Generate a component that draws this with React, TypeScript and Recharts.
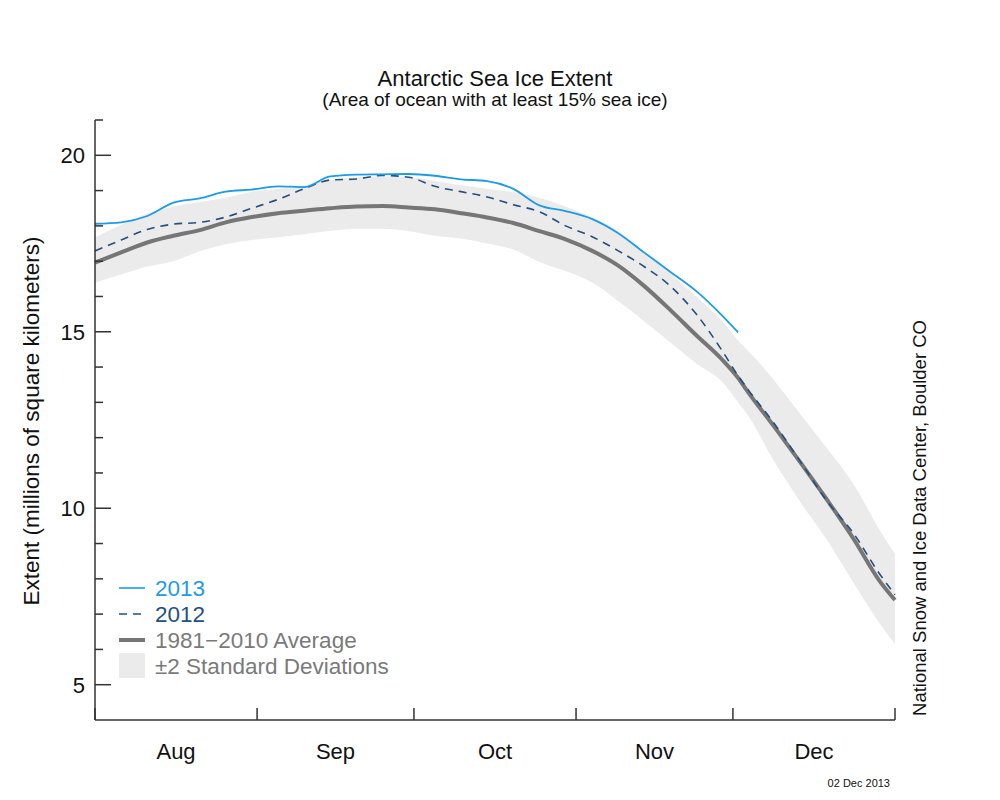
import { Area, ComposedChart, Line, XAxis, YAxis } from "recharts";

// days since Aug 1
const days = [0, 5, 10, 15, 20, 25, 30, 35, 40, 45, 50, 55, 60, 65, 70, 75, 80, 85, 90, 95, 100, 105, 110, 115, 120, 123, 125, 130, 135, 140, 145, 150, 153];
const ext2013 = [18.06, 18.1, 18.28, 18.66, 18.78, 18.97, 19.03, 19.12, 19.1, 19.4, 19.45, 19.46, 19.47, 19.42, 19.32, 19.27, 19.05, 18.58, 18.42, 18.2, 17.8, 17.25, 16.7, 16.15, 15.45, 14.98, null, null, null, null, null, null, null];
const ext2012 = [17.29, 17.6, 17.9, 18.05, 18.1, 18.25, 18.5, 18.75, 19.05, 19.3, 19.33, 19.43, 19.38, 19.12, 18.97, 18.82, 18.6, 18.4, 18.0, 17.7, 17.3, 16.85, 16.3, 15.5, 14.45, 13.75, 13.34, 12.38, 11.3, 10.2, 9.3, 8.15, 7.55];
const avg = [16.96, 17.25, 17.53, 17.72, 17.88, 18.1, 18.25, 18.36, 18.43, 18.5, 18.55, 18.56, 18.52, 18.47, 18.36, 18.24, 18.08, 17.85, 17.62, 17.3, 16.88, 16.3, 15.62, 14.9, 14.2, 13.69, 13.27, 12.29, 11.28, 10.24, 9.15, 7.95, 7.4];
const sdHigh = [17.67, 18.03, 18.35, 18.55, 18.68, 18.8, 18.97, 19.05, 19.15, 19.3, 19.38, 19.4, 19.38, 19.27, 19.15, 19.05, 18.95, 18.8, 18.55, 18.25, 17.85, 17.25, 16.65, 16.0, 15.3, 14.75, 14.45, 13.6, 12.65, 11.7, 10.7, 9.4, 8.7];
const sdLow = [16.39, 16.62, 16.85, 17.0, 17.28, 17.48, 17.6, 17.68, 17.76, 17.86, 17.92, 17.92, 17.85, 17.72, 17.64, 17.5, 17.33, 16.98, 16.72, 16.4, 15.88, 15.3, 14.7, 14.1, 13.57, 13.0, 12.6, 11.3, 10.15, 9.1, 7.9, 6.75, 6.15];

const monthStarts = [0, 31, 61, 92, 122, 153];
const monthMids = [15.5, 46, 76.5, 107, 137.5];
const monthLabels = ["Aug", "Sep", "Oct", "Nov", "Dec"];
const yTicks = [5, 6, 7, 8, 9, 10, 11, 12, 13, 14, 15, 16, 17, 18, 19, 20, 21];

const FONT = "'Liberation Sans', Arial, Helvetica, sans-serif";
const AXIS = "#333";

const data = days.map((d, i) => ({
  day: d,
  e2013: ext2013[i],
  e2012: ext2012[i],
  avg: avg[i],
  band: [sdLow[i], sdHigh[i]],
}));

const XTick = ({ x, y, payload }: any) => {
  const v = payload.value;
  if (monthStarts.includes(v)) {
    return <line x1={x} y1={y} x2={x} y2={y - 12} stroke={AXIS} strokeWidth={1.5} />;
  }
  const label = monthLabels[monthMids.indexOf(v)];
  return (
    <text x={x} y={y + 39} textAnchor="middle" fontSize={22} fill="#111" fontFamily={FONT}>
      {label}
    </text>
  );
};

const YTick = ({ x, y, payload }: any) => {
  const v = payload.value;
  const major = v % 5 === 0;
  return (
    <g>
      <line x1={x} y1={y} x2={x + (major ? 16 : 8)} y2={y} stroke={AXIS} strokeWidth={1.5} />
      {major && (
        <text x={x - 10} y={y + 8} textAnchor="end" fontSize={22} fill="#111" fontFamily={FONT}>
          {v}
        </text>
      )}
    </g>
  );
};

const Texts = () => (
  <g fontFamily={FONT}>
    <text x={495} y={86} textAnchor="middle" fontSize={22} fill="#111">
      Antarctic Sea Ice Extent
    </text>
    <text x={495} y={106} textAnchor="middle" fontSize={19} fill="#111">
      (Area of ocean with at least 15% sea ice)
    </text>
    <text
      transform="translate(39,421) rotate(-90)"
      textAnchor="middle"
      fontSize={22.5}
      fill="#111"
    >
      Extent (millions of square kilometers)
    </text>
    <text
      transform="translate(926,518) rotate(-90)"
      textAnchor="middle"
      fontSize={18.5}
      fill="#111"
    >
      National Snow and Ice Data Center, Boulder CO
    </text>
    <text x={890} y={787} textAnchor="end" fontSize={11} fill="#111">
      02 Dec 2013
    </text>
    {/* legend */}
    <line x1={119} y1={588} x2={145} y2={588} stroke="#1e9be6" strokeWidth={1.6} />
    <text x={155} y={596} fontSize={22.5} fill="#1e9be6">2013</text>
    <line x1={119} y1={614} x2={145} y2={614} stroke="#24507f" strokeWidth={1.6} strokeDasharray="8 6" />
    <text x={155} y={622} fontSize={22.5} fill="#24507f">2012</text>
    <line x1={119} y1={640} x2={145} y2={640} stroke="#767676" strokeWidth={4} />
    <text x={155} y={648} fontSize={22.5} fill="#7a7a7a">1981−2010 Average</text>
    <rect x={119} y={653} width={26} height={25} fill="#ebebeb" />
    <text x={155} y={674} fontSize={22.5} fill="#7a7a7a">±2 Standard Deviations</text>
  </g>
);

export default function App() {
  return (
    <div style={{ position: "absolute", left: 0, top: 0, background: "#fff" }}>
      <ComposedChart
        width={1000}
        height={800}
        data={data}
        margin={{ top: 120, right: 105, bottom: 40, left: 35 }}
      >
        <XAxis
          type="number"
          dataKey="day"
          domain={[0, 153]}
          ticks={[...monthStarts, ...monthMids]}
          interval={0}
          height={40}
          tickSize={0}
          tickMargin={0}
          tickLine={false}
          tick={<XTick />}
          axisLine={{ stroke: AXIS, strokeWidth: 1.5 }}
        />
        <YAxis
          type="number"
          domain={[4, 21]}
          ticks={yTicks}
          interval={0}
          width={60}
          tickSize={0}
          tickMargin={0}
          tickLine={false}
          tick={<YTick />}
          axisLine={{ stroke: AXIS, strokeWidth: 1.5 }}
        />
        <Area
          type="monotone"
          dataKey="band"
          stroke="none"
          fill="#ebebeb"
          fillOpacity={1}
          isAnimationActive={false}
        />
        <Line
          type="monotone"
          dataKey="avg"
          stroke="#767676"
          strokeWidth={4}
          dot={false}
          isAnimationActive={false}
        />
        <Line
          type="monotone"
          dataKey="e2012"
          stroke="#24507f"
          strokeWidth={1.6}
          strokeDasharray="8 6"
          dot={false}
          isAnimationActive={false}
        />
        <Line
          type="monotone"
          dataKey="e2013"
          stroke="#1e9be6"
          strokeWidth={1.8}
          dot={false}
          isAnimationActive={false}
        />
        <Texts />
      </ComposedChart>
    </div>
  );
}
